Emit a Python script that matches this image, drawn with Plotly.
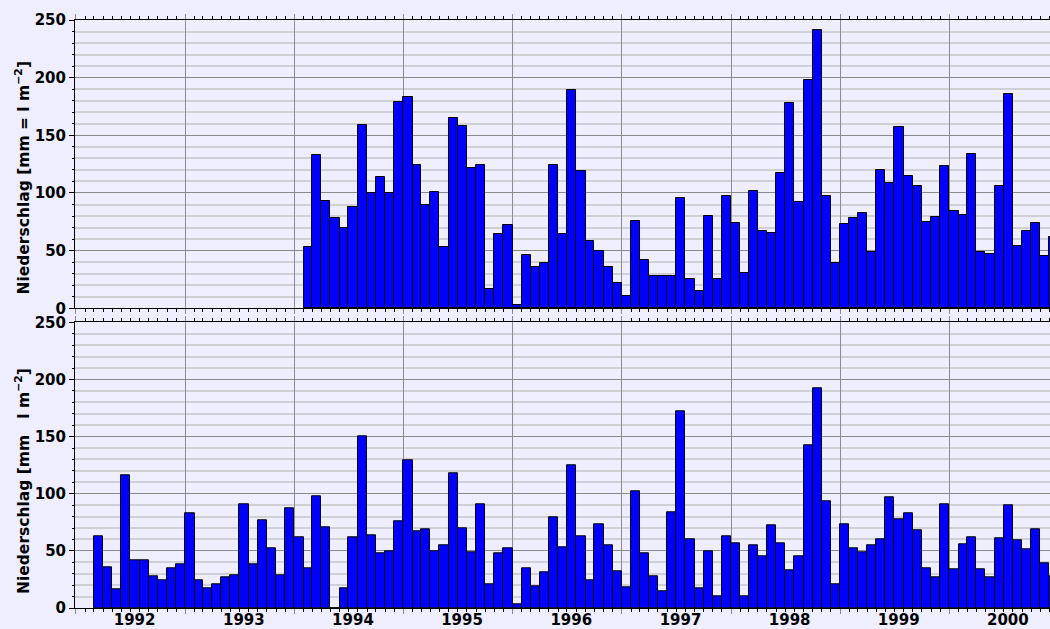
import plotly.graph_objects as go
import pandas as pd

# ---- data (monthly precipitation, mm) ----
oben_start = "1994-02-01"   # first month of the upper series
oben = [
    53, 133, 93, 78, 70, 88, 159, 100, 114, 100, 179,            # 1994 (Feb-Dec)
    183, 124, 90, 101, 53, 165, 158, 122, 124, 17, 64, 72,       # 1995
    3, 46, 36, 39, 124, 64, 189, 119, 58, 50, 36, 22,            # 1996
    11, 76, 42, 28, 28, 28, 96, 25, 15, 80, 25, 97,              # 1997
    74, 31, 102, 67, 65, 117, 178, 92, 198, 241, 97, 39,         # 1998
    73, 78, 83, 49, 120, 109, 157, 115, 106, 75, 79, 123,        # 1999
    84, 81, 134, 49, 47, 106, 186, 54, 67, 74, 45, 62,           # 2000
]

unten_start = "1992-03-01"  # first month of the lower series
unten = [
    63, 36, 16, 116, 42, 42, 28, 24, 35, 38,                     # 1992 (Mar-Dec)
    83, 24, 17, 21, 27, 29, 91, 38, 77, 52, 29, 87,              # 1993
    62, 35, 98, 71, 0, 17, 62, 150, 64, 48, 50, 76,              # 1994
    129, 67, 69, 50, 55, 118, 70, 49, 91, 21, 48, 52,            # 1995
    3, 35, 19, 31, 79, 53, 125, 63, 24, 73, 55, 32,              # 1996
    18, 102, 48, 28, 15, 84, 172, 60, 17, 50, 10, 63,            # 1997
    57, 10, 55, 45, 72, 57, 33, 45, 142, 192, 93, 21,            # 1998
    73, 52, 49, 55, 60, 97, 78, 83, 68, 35, 27, 91,              # 1999
    34, 56, 62, 34, 27, 61, 90, 59, 51, 69, 39, 28,              # 2000
]

titel_oben = "Niederschlag [mm = l m<sup>−2</sup>]"
titel_unten = "Niederschlag [mm\u00a0\u00a0\u00a0l m<sup>−2</sup>]"


def months(start, n):
    starts = pd.date_range(start, periods=n, freq="MS")
    days = starts.days_in_month
    mids = starts + pd.to_timedelta(days * 12, unit="h")
    widths = [int(d) * 86400000 for d in days]
    return mids, widths


x_o, w_o = months(oben_start, len(oben))
x_u, w_u = months(unten_start, len(unten))

bar_style = dict(color="#0000ff", line=dict(color="black", width=1))

fig = go.Figure()
fig.add_trace(go.Bar(x=x_o, y=oben, width=w_o, marker=bar_style,
                     xaxis="x", yaxis="y", hoverinfo="x+y"))
fig.add_trace(go.Bar(x=x_u, y=unten, width=w_u, marker=bar_style,
                     xaxis="x2", yaxis="y2", hoverinfo="x+y"))

BG = "#eeeeff"
FONT = "DejaVu Sans"

xcommon = dict(
    type="date",
    range=["1991-12-29", "2000-12-03"],
    dtick="M12",
    tick0="1992-01-01",
    tickformat="%Y",
    ticklabelmode="period",
    ticklabelstandoff=-7,
    ticklabelshift=4,
    showgrid=True,
    gridcolor="#8c8c8c",
    gridwidth=1,
    ticks="outside",
    ticklen=5,
    tickcolor="#888888",
    showline=True,
    linecolor="black",
    linewidth=1,
    mirror="ticks",
    zeroline=False,
    automargin=False,
    minor=dict(dtick="M1", tick0="1992-01-01", ticks="outside", ticklen=3,
               tickcolor="black", showgrid=False),
    tickfont=dict(family=FONT, size=15, color="black", weight="bold"),
)

ycommon = dict(
    range=[0, 250],
    dtick=50,
    tick0=0,
    showgrid=True,
    gridcolor="#8a8a8a",
    gridwidth=1,
    ticks="outside",
    ticklen=5,
    tickcolor="black",
    showline=True,
    linecolor="black",
    linewidth=1,
    zeroline=False,
    minor=dict(dtick=10, ticks="outside", ticklen=2, tickcolor="black",
               showgrid=True, gridcolor="#cfcfd6", gridwidth=1.5),
    tickfont=dict(family=FONT, size=15, color="black", weight="bold"),
    automargin=False,
)

title_font = dict(family=FONT, size=15.5, color="black", weight="bold")

fig.update_layout(
    width=1050,
    height=629,
    margin=dict(l=75, r=0, t=20, b=21),
    paper_bgcolor=BG,
    plot_bgcolor=BG,
    showlegend=False,
    bargap=0,
    barmode="overlay",
    xaxis=dict(xcommon, domain=[0, 1], anchor="y", showticklabels=False),
    xaxis2=dict(xcommon, domain=[0, 1], anchor="y2", matches="x"),
    yaxis=dict(ycommon, domain=[0.5097, 1.0], anchor="x"),
    yaxis2=dict(ycommon, domain=[0.0, 0.4859], anchor="x2"),
    annotations=[
        dict(text=titel_oben, xref="paper", yref="paper", x=-0.0533, y=0.7321,
             xanchor="center", yanchor="middle", textangle=-90,
             showarrow=False, font=title_font),
        dict(text=titel_unten, xref="paper", yref="paper", x=-0.0533, y=0.216,
             xanchor="center", yanchor="middle", textangle=-90,
             showarrow=False, font=title_font),
    ],
)

fig.write_html(
    "out.html",
    config={"displayModeBar": False},
    post_script="document.body.style.margin='0';"
                "document.body.style.overflow='hidden';"
                "document.body.style.background='#eeeeff';",
)
